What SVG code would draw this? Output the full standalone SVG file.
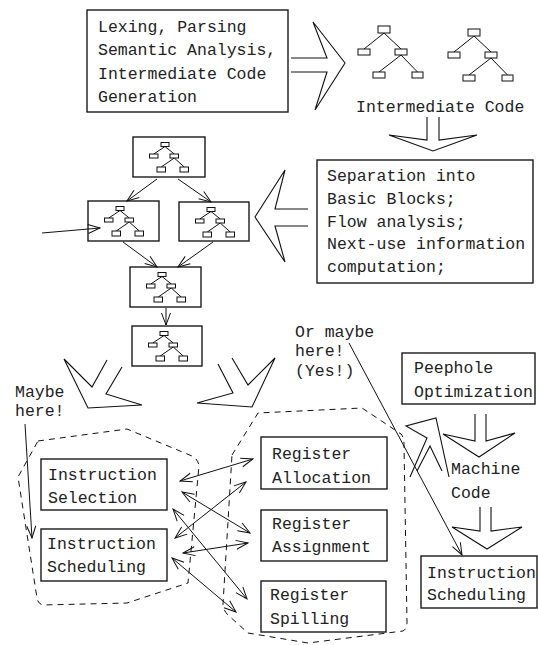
<svg xmlns="http://www.w3.org/2000/svg" xmlns:xlink="http://www.w3.org/1999/xlink" width="538" height="645" viewBox="0 0 538 645">
<style>
.box{fill:none;stroke:#1a1a1a;stroke-width:1.4}
.t{font-family:"Liberation Mono","Courier New",monospace;font-size:16.5px;fill:#222}
.ln{fill:none;stroke:#111;stroke-width:1}
.big{fill:none;stroke:#111;stroke-width:1.1;stroke-linejoin:miter}
.dash{fill:none;stroke:#111;stroke-width:1;stroke-dasharray:6 5}
.tn{fill:#fff;stroke:#111;stroke-width:1}
</style>
<defs>
<marker id="ah" viewBox="-13 -6 14 12" refX="0" refY="0" markerWidth="14" markerHeight="12" markerUnits="userSpaceOnUse" orient="auto-start-reverse">
<path d="M-12,-4.5 L0,0 L-12,4.5" fill="none" stroke="#111" stroke-width="1"/>
</marker>
<g id="st">
<path class="ln" d="M32,9.5 L20.75,17 M32,9.5 L41.25,17 M41.25,21 L28.25,30 M41.25,21 L51.25,30"/>
<rect class="tn" x="28" y="5.5" width="8" height="4"/>
<rect class="tn" x="16.5" y="17" width="8.5" height="4"/>
<rect class="tn" x="37" y="17" width="8.5" height="4"/>
<rect class="tn" x="24" y="30" width="8.5" height="5"/>
<rect class="tn" x="47" y="30" width="8.5" height="5"/>
</g>
<g id="bt">
<path class="ln" d="M384,33 L364,49 M384,33 L401,49 M401,55 L379,72 M401,55 L417.5,72"/>
<rect class="tn" x="378" y="26" width="12" height="7"/>
<rect class="tn" x="358" y="49" width="12" height="6"/>
<rect class="tn" x="395" y="49" width="12" height="6"/>
<rect class="tn" x="373" y="72" width="12" height="6"/>
<rect class="tn" x="412" y="72" width="11" height="6"/>
</g>
</defs>

<g id="frontend">
<rect class="box" x="87" y="10" width="201" height="102"/>
<text class="t" x="98" y="32">Lexing, Parsing</text>
<text class="t" x="98" y="55">Semantic Analysis,</text>
<text class="t" x="98" y="79">Intermediate Code</text>
<text class="t" x="98" y="102">Generation</text>
</g>

<g id="intermediate-code">
<use xlink:href="#bt"/>
<use xlink:href="#bt" transform="translate(90,3)"/>
<text class="t" x="356" y="112">Intermediate Code</text>
</g>

<g id="separation">
<rect class="box" x="317" y="160" width="216" height="123"/>
<text class="t" x="327" y="181">Separation into</text>
<text class="t" x="327" y="204">Basic Blocks;</text>
<text class="t" x="327" y="227">Flow analysis;</text>
<text class="t" x="327" y="249">Next-use information</text>
<text class="t" x="327" y="272">computation;</text>
</g>

<g id="block-a"><rect class="box" x="133" y="137" width="72" height="40"/><use xlink:href="#st" x="133" y="137"/></g>
<g id="block-b"><rect class="box" x="88" y="201" width="71" height="40"/><use xlink:href="#st" x="88" y="201"/></g>
<g id="block-c"><rect class="box" x="179" y="202" width="70" height="39"/><use xlink:href="#st" x="179" y="202"/></g>
<g id="block-d"><rect class="box" x="130" y="267" width="71" height="40"/><use xlink:href="#st" x="130" y="267"/></g>
<g id="block-e"><rect class="box" x="132" y="326" width="70" height="40"/><use xlink:href="#st" x="132" y="326"/></g>

<g id="maybe-note"><text class="t" x="15" y="397">Maybe</text><text class="t" x="15" y="416">here!</text></g>
<g id="or-maybe-note"><text class="t" x="295" y="337">Or maybe</text><text class="t" x="295" y="356">here!</text><text class="t" x="295" y="376">(Yes!)</text></g>

<g id="peephole">
<rect class="box" x="402" y="353" width="133" height="51"/>
<text class="t" x="414" y="373">Peephole</text>
<text class="t" x="414" y="397">Optimization</text>
</g>

<g id="machine-code"><text class="t" x="451" y="474">Machine</text><text class="t" x="451" y="498">Code</text></g>

<g id="instr-group"><path class="dash" d="M38,441 L127,429 L192,456 Q198,459 199,466 L188,583 L127,603 L43,605 Q38,604 37,598 L18,477 Z"/></g>
<g id="reg-group"><path class="dash" d="M232,455 L258,413 L362,408 L401,434 Q404,437 404,445 L407,622 Q407,629 403,631 L308,643 L248,633 L228,615 Q223,610 223,604 Z"/></g>

<g id="instr-selection"><rect class="box" x="41" y="459" width="126" height="51"/><text class="t" x="48" y="480">Instruction</text><text class="t" x="48" y="503">Selection</text></g>
<g id="instr-scheduling"><rect class="box" x="41" y="529" width="126" height="52"/><text class="t" x="47" y="549">Instruction</text><text class="t" x="47" y="572">Scheduling</text></g>
<g id="reg-allocation"><rect class="box" x="261" y="437" width="126" height="52"/><text class="t" x="272" y="459">Register</text><text class="t" x="272" y="483">Allocation</text></g>
<g id="reg-assignment"><rect class="box" x="261" y="510" width="126" height="51"/><text class="t" x="272" y="529">Register</text><text class="t" x="272" y="552">Assignment</text></g>
<g id="reg-spilling"><rect class="box" x="261" y="581" width="125" height="51"/><text class="t" x="270" y="600">Register</text><text class="t" x="270" y="624">Spilling</text></g>
<g id="final-scheduling"><rect class="box" x="421" y="556" width="116" height="52"/><text class="t" x="427" y="578">Instruction</text><text class="t" x="427" y="600">Scheduling</text></g>

<g id="connectors">
<polyline class="big" points="291,58 327,58 313,22 345,63 315,110 327,72 291,72"/>
<polyline class="big" points="427,117 427,140 389,135 433,151 477,135 439,140 439,117"/>
<polyline class="big" points="308,209 275,209 285,170 255,217 285,262 275,226 308,226"/>
<polyline class="big" points="107,360 92,387 64,359 88,408 142,405 106,394 122,367"/>
<polyline class="big" points="232,358 248,385 275,358 252,407 197,403 233,393 218,364"/>
<polyline class="big" points="475,414 475,441 443,434 479,457 515,433 486,441 486,414"/>
<polyline class="big" points="480,507 480,531 452,527 487,549 522,527 491,531 491,507"/>
<polyline class="big" points="410,477 427,438 406,426 436,418 449,477"/>
<polyline class="big" points="417,471 430,446 442,471"/>
<line class="ln" x1="157" y1="179" x2="127" y2="201" marker-end="url(#ah)"/>
<line class="ln" x1="178" y1="179" x2="211" y2="202" marker-end="url(#ah)"/>
<line class="ln" x1="123" y1="242" x2="157" y2="267" marker-end="url(#ah)"/>
<line class="ln" x1="213" y1="242" x2="178" y2="267" marker-end="url(#ah)"/>
<line class="ln" x1="166" y1="308" x2="166" y2="325" marker-end="url(#ah)"/>
<line class="ln" x1="42" y1="233" x2="100" y2="228" marker-end="url(#ah)"/>
<line class="ln" x1="25" y1="424" x2="32" y2="538" marker-end="url(#ah)"/>
<line class="ln" x1="349" y1="343" x2="462" y2="555" marker-end="url(#ah)"/>
<line class="ln" x1="180" y1="481" x2="253" y2="459" marker-start="url(#ah)" marker-end="url(#ah)"/>
<line class="ln" x1="182" y1="492" x2="250" y2="533" marker-start="url(#ah)" marker-end="url(#ah)"/>
<line class="ln" x1="175" y1="538" x2="246" y2="482" marker-start="url(#ah)" marker-end="url(#ah)"/>
<line class="ln" x1="183" y1="553" x2="248" y2="543" marker-start="url(#ah)" marker-end="url(#ah)"/>
<line class="ln" x1="173" y1="509" x2="247" y2="599" marker-start="url(#ah)" marker-end="url(#ah)"/>
<line class="ln" x1="172" y1="558" x2="236" y2="612" marker-start="url(#ah)" marker-end="url(#ah)"/>
</g>
</svg>
